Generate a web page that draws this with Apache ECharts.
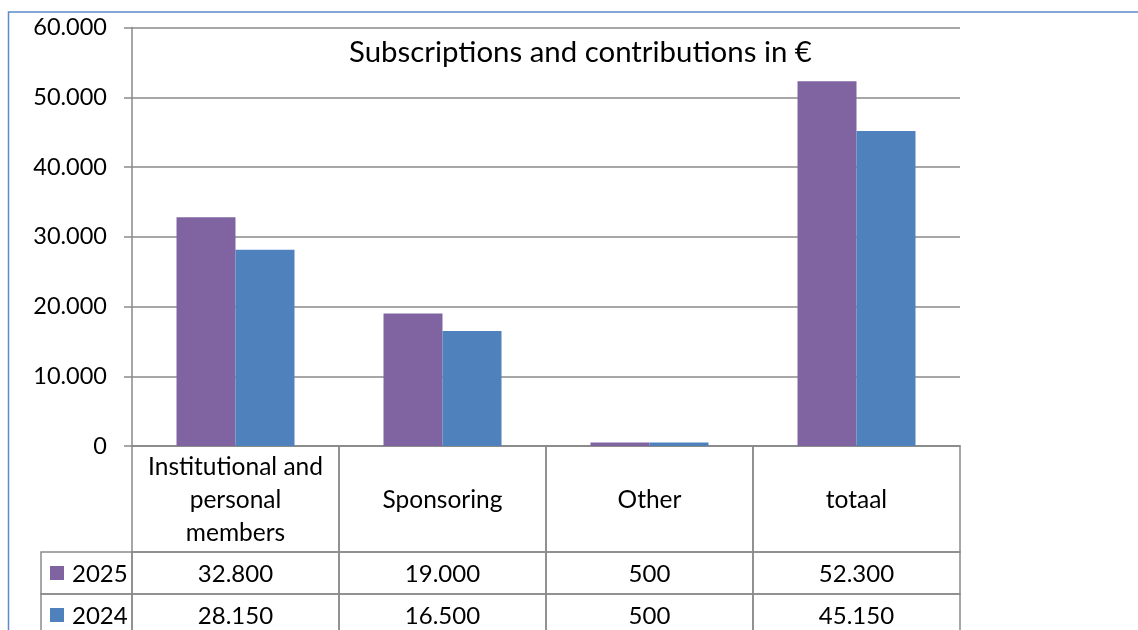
<!DOCTYPE html>
<html><head><meta charset="utf-8">
<script src="https://cdn.jsdelivr.net/npm/echarts@6/dist/echarts.min.js"></script>
<style>html,body{margin:0;padding:0;background:#fff}#c{width:1138px;height:630px}</style>
</head><body><div id="c"></div>
<script>
const titleText = 'Subscriptions and contributions in €';
const categories = ['Institutional and\npersonal\nmembers', 'Sponsoring', 'Other', 'totaal'];
const seriesNames = ['2025', '2024'];
const values2025 = [32800, 19000, 500, 52300];
const values2024 = [28150, 16500, 500, 45150];
const seriesColors = ['#8064A2', '#4F81BD'];

function fmt(v) { return String(v).replace(/\B(?=(\d{3})+(?!\d))/g, '.'); }

const FONT = 'Lato';
const LINE = '#8a8a8a';
// table layout (axis units of the table grid; 1 unit = 1 row pixel)
const legendColStart = -0.5 - 91 / 207;
const rowBounds = [[0, 106], [106, 148], [148, 190]];

const cells = [];
categories.forEach((c, i) => cells.push({ v: [i - 0.5, i + 0.5, rowBounds[0][0], rowBounds[0][1]], text: c, size: 24.5 }));
[values2025, values2024].forEach((arr, s) => {
  cells.push({ v: [legendColStart, -0.5, rowBounds[s + 1][0], rowBounds[s + 1][1]], text: seriesNames[s], legend: seriesColors[s], size: 24 });
  arr.forEach((val, i) => cells.push({ v: [i - 0.5, i + 0.5, rowBounds[s + 1][0], rowBounds[s + 1][1]], text: fmt(val), size: 24 }));
});

const chart = echarts.init(document.getElementById('c'));
chart.setOption({
  animation: false,
  title: { text: titleText, left: 344, top: 33, textStyle: { fontFamily: FONT, fontSize: 29.4, fontWeight: 'normal', color: '#000' } },
  graphic: [{ type: 'rect', shape: { x: 8.5, y: 12, width: 1300, height: 800 }, style: { fill: 'none', stroke: '#5b8bc9', lineWidth: 1.5 }, silent: true }],
  grid: [
    { left: 132, right: 178, top: 27.5, height: 418.5 },
    { left: 41, right: 178, top: 446, bottom: 0 }
  ],
  xAxis: [
    { type: 'category', data: categories, gridIndex: 0, axisLabel: { show: false }, axisTick: { show: false },
      axisLine: { show: true, lineStyle: { color: LINE, width: 1.5 } } },
    { type: 'value', gridIndex: 1, min: legendColStart, max: 3.5, show: false }
  ],
  yAxis: [
    { type: 'value', gridIndex: 0, min: 0, max: 60000, interval: 10000,
      axisLine: { show: true, lineStyle: { color: LINE, width: 1.5 } },
      axisTick: { show: true, length: 8, lineStyle: { color: LINE, width: 1.5 } },
      splitLine: { lineStyle: { color: LINE, width: 1.5 } },
      axisLabel: { margin: 25, fontFamily: FONT, fontSize: 23.5, color: '#000', formatter: fmt } },
    { type: 'value', gridIndex: 1, min: 0, max: 184, inverse: true, show: false }
  ],
  series: [
    { name: seriesNames[0], type: 'bar', data: values2025, itemStyle: { color: seriesColors[0] }, barGap: '0%', barCategoryGap: '43%' },
    { name: seriesNames[1], type: 'bar', data: values2024, itemStyle: { color: seriesColors[1] }, barGap: '0%', barCategoryGap: '43%' },
    { type: 'custom', xAxisIndex: 1, yAxisIndex: 1, data: cells.map(c => c.v),
      encode: { x: [0, 1], y: [2, 3] }, clip: false, silent: true,
      renderItem(params, api) {
        const d = cells[params.dataIndex];
        const p0 = api.coord([api.value(0), api.value(2)]);
        const p1 = api.coord([api.value(1), api.value(3)]);
        const w = p1[0] - p0[0], h = p1[1] - p0[1];
        const ch = [{ type: 'rect', shape: { x: p0[0], y: p0[1], width: w, height: h }, style: { fill: 'none', stroke: LINE, lineWidth: 1.5 } }];
        if (d.legend) {
          ch.push({ type: 'rect', shape: { x: p0[0] + 9, y: p0[1] + h / 2 - 7, width: 14, height: 14 }, style: { fill: d.legend } });
          ch.push({ type: 'text', style: { text: d.text, x: p0[0] + 31, y: p0[1] + h / 2 + 1, align: 'left', verticalAlign: 'middle', fontFamily: FONT, fontSize: d.size, fill: '#000' } });
        } else {
          ch.push({ type: 'text', style: { text: d.text, x: p0[0] + w / 2, y: p0[1] + h / 2 + 1, align: 'center', verticalAlign: 'middle', fontFamily: FONT, fontSize: d.size, lineHeight: 33, fill: '#000' } });
        }
        return { type: 'group', children: ch };
      }
    }
  ]
});
</script></body></html>
